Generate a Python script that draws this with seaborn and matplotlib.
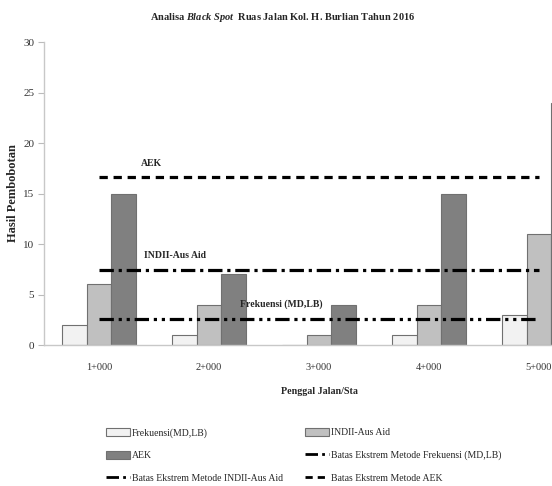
import matplotlib
matplotlib.use("Agg")
import matplotlib.pyplot as plt
import seaborn as sns
import pandas as pd
import numpy as np
from matplotlib.patches import Patch
from matplotlib.lines import Line2D

# ---- data ----
sta = ["1+000", "2+000", "3+000", "4+000", "5+000"]
frekuensi = [2, 1, 0, 1, 3]
indii = [6, 4, 1, 4, 11]
aek = [15, 7, 4, 15, 24]
batas_frekuensi = 2.6
batas_indii = 7.4
batas_aek = 16.6
series_names = ["Frekuensi(MD,LB)", "INDII-Aus Aid", "AEK"]
y_ticks = [0, 5, 10, 15, 20, 25, 30]

df = pd.DataFrame({
    "Sta": sta * 3,
    "Nilai": frekuensi + indii + aek,
    "Metode": [series_names[0]] * 5 + [series_names[1]] * 5 + [series_names[2]] * 5,
})

sns.set_theme(style="white")
plt.rcParams["font.family"] = ["Liberation Serif", "DejaVu Serif"]
plt.rcParams["mathtext.fontset"] = "custom"
plt.rcParams["mathtext.it"] = "Liberation Serif:italic:bold"
plt.rcParams["mathtext.rm"] = "Liberation Serif:bold"

fig = plt.figure(figsize=(5.52, 4.86), dpi=100)
ax = fig.add_axes([44 / 552, 1 - 345 / 486, 550 / 552, (345 - 42) / 486])

colors = ["#F2F2F2", "#C0C0C0", "#808080"]
sns.barplot(data=df, x="Sta", y="Nilai", hue="Metode", hue_order=series_names,
            order=sta, palette=colors, width=0.67, edgecolor="#707070",
            linewidth=0.8, ax=ax, legend=False, saturation=1)

# threshold lines
lw = 2.3
d_aek = (2.6, 1.8)
d_ind = (4.5, 1.5, 1.0, 1.5)
d_frk = (4.5, 1.5, 1.0, 1.5, 1.0, 1.5)
ax.plot(sta, [batas_aek] * len(sta), color="black", lw=lw, dashes=d_aek)
ax.plot(sta, [batas_indii] * len(sta), color="black", lw=lw, dashes=d_ind)
ax.plot(sta, [batas_frekuensi] * len(sta), color="black", lw=lw, dashes=d_frk)

ax.set_xlim(-0.5, 4.5)
ax.set_ylim(0, 30)
ax.set_yticks(y_ticks)
ax.set_yticklabels([str(t) for t in y_ticks], fontsize=8, color="#333333")
ax.set_xticks(range(len(sta)))
ax.set_xticklabels(sta, fontsize=7.5, color="#333333")
ax.tick_params(axis="x", which="major", length=0, pad=13)
ax.set_xticks(np.arange(0.5, len(sta) - 0.5, 1.0), minor=True)
ax.tick_params(axis="x", which="minor", length=4, color="#BBBBBB", width=0.8)
ax.tick_params(axis="y", length=4, color="#BBBBBB", width=0.8, pad=3, left=True)

for s in ["top", "right"]:
    ax.spines[s].set_visible(False)
for s in ["left", "bottom"]:
    ax.spines[s].set_color("#C8C8C8")
    ax.spines[s].set_linewidth(1.0)

ax.set_xlabel("Penggal Jalan/Sta", fontsize=7.2, fontweight="bold", labelpad=11)
ax.set_ylabel("Hasil Pembobotan", fontsize=9, fontweight="bold", labelpad=3)

ax.text(0.48, 18.0, "AEK", fontsize=7, fontweight="bold", ha="center", va="center")
ax.text(0.69, 8.9, "INDII-Aus Aid", fontsize=7, fontweight="bold", ha="center", va="center")
ax.text(1.66, 4.0, "Frekuensi (MD,LB)", fontsize=7, fontweight="bold", ha="center", va="center")

fig.text(283 / 552, 1 - 17 / 486, "Analisa $Black\\ Spot$  Ruas Jalan Kol. H. Burlian Tahun 2016",
         fontsize=7.5, fontweight="bold", ha="center", va="center")

# legend
h_f = Patch(facecolor=colors[0], edgecolor="#707070", linewidth=0.8)
h_i = Patch(facecolor=colors[1], edgecolor="#707070", linewidth=0.8)
h_a = Patch(facecolor=colors[2], edgecolor="#707070", linewidth=0.8)
hl_f = Line2D([], [], color="black", lw=2, dashes=d_frk)
hl_i = Line2D([], [], color="black", lw=2, dashes=d_ind)
hl_a = Line2D([], [], color="black", lw=2, dashes=d_aek)
handles = [h_f, h_a, hl_i, h_i, hl_f, hl_a]
labels = ["Frekuensi(MD,LB)", "AEK", "Batas Ekstrem Metode INDII-Aus Aid",
          "INDII-Aus Aid", "Batas Ekstrem Metode Frekuensi (MD,LB)", "Batas Ekstrem Metode AEK"]
fig.legend(handles, labels, ncol=2, frameon=False, fontsize=7,
           loc="upper left", bbox_to_anchor=(102 / 552, 1 - 424 / 486),
           handlelength=2.5, handleheight=0.9, handletextpad=0.2,
           columnspacing=2.2, labelspacing=1.35, borderaxespad=0)

fig.savefig("out.png", dpi=100)
